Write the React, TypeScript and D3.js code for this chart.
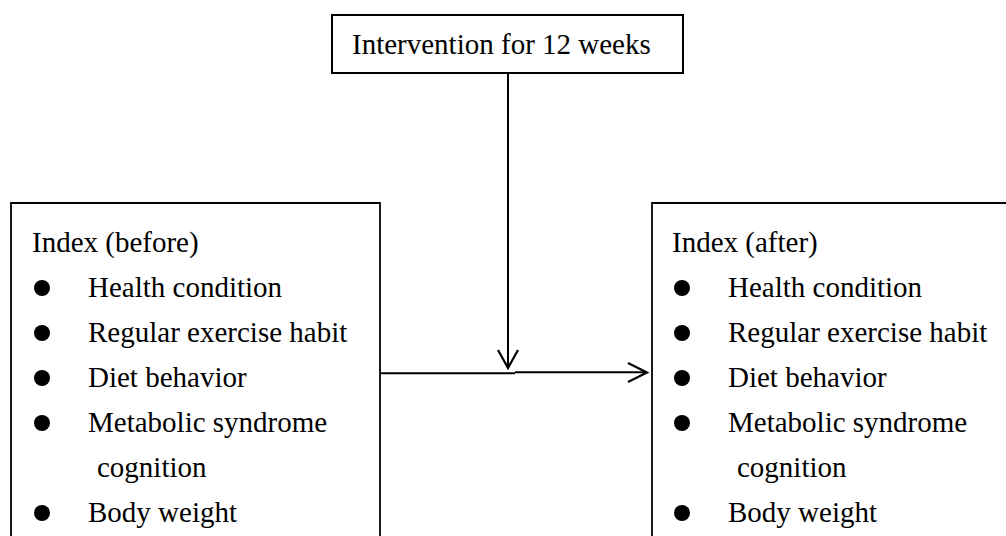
import React from "react";
import * as d3 from "d3";

const TITLE = "Intervention for 12 weeks";
const BEFORE_HEADER = "Index (before)";
const AFTER_HEADER = "Index (after)";
// each item: [text, isContinuation]
const ITEMS: [string, boolean][] = [
  ["Health condition", false],
  ["Regular exercise habit", false],
  ["Diet behavior", false],
  ["Metabolic syndrome", false],
  ["cognition", true],
  ["Body weight", false],
];

const W = 1006;
const H = 536;
const FONT = "'Liberation Serif', 'Times New Roman', serif";
const FS = 29;

function Panel({ x0, header }: { x0: number; header: string }) {
  const rowY = d3.scaleLinear().domain([0, 1]).range([252, 297]);
  return (
    <g>
      <text x={x0 + 21} y={rowY(0)} fontSize={FS} fontFamily={FONT} fill="#000">
        {header}
      </text>
      {ITEMS.map(([t, cont], i) => (
        <g key={i}>
          {!cont && <circle cx={x0 + 31} cy={rowY(i + 1) - 9} r={8} fill="#000" />}
          <text
            x={x0 + (cont ? 86 : 77)}
            y={rowY(i + 1)}
            fontSize={FS}
            fontFamily={FONT}
            fill="#000"
          >
            {t}
          </text>
        </g>
      ))}
    </g>
  );
}

export default function App() {
  return (
    <svg
      width={W}
      height={H}
      style={{ position: "fixed", left: 0, top: 0, background: "#fff" }}
    >
      <rect x={0} y={0} width={W} height={H} fill="#fff" />
      {/* top box */}
      <rect x={332} y={15} width={351} height={58} fill="none" stroke="#000" strokeWidth={2} />
      <text x={352} y={54} fontSize={FS} fontFamily={FONT} fill="#000">
        {TITLE}
      </text>
      {/* left box */}
      <path d="M11,540 V203 H380 V540" fill="none" stroke="#000" strokeWidth={1.8} />
      {/* right box */}
      <path d="M652,540 V203 H1010" fill="none" stroke="#000" strokeWidth={1.8} />
      <Panel x0={11} header={BEFORE_HEADER} />
      <Panel x0={651} header={AFTER_HEADER} />
      {/* vertical arrow */}
      <line x1={508} y1={73} x2={508} y2={368} stroke="#000" strokeWidth={2} />
      <path d="M498,350 L508,368 L518,350" fill="none" stroke="#000" strokeWidth={2.2} />
      {/* horizontal arrow */}
      <line x1={380} y1={373.3} x2={515} y2={373.3} stroke="#000" strokeWidth={2} />
      <line x1={515} y1={372.3} x2={647} y2={372.3} stroke="#000" strokeWidth={2} />
      <path d="M628,363 L647,372.5 L628,382" fill="none" stroke="#000" strokeWidth={2.2} />
    </svg>
  );
}
